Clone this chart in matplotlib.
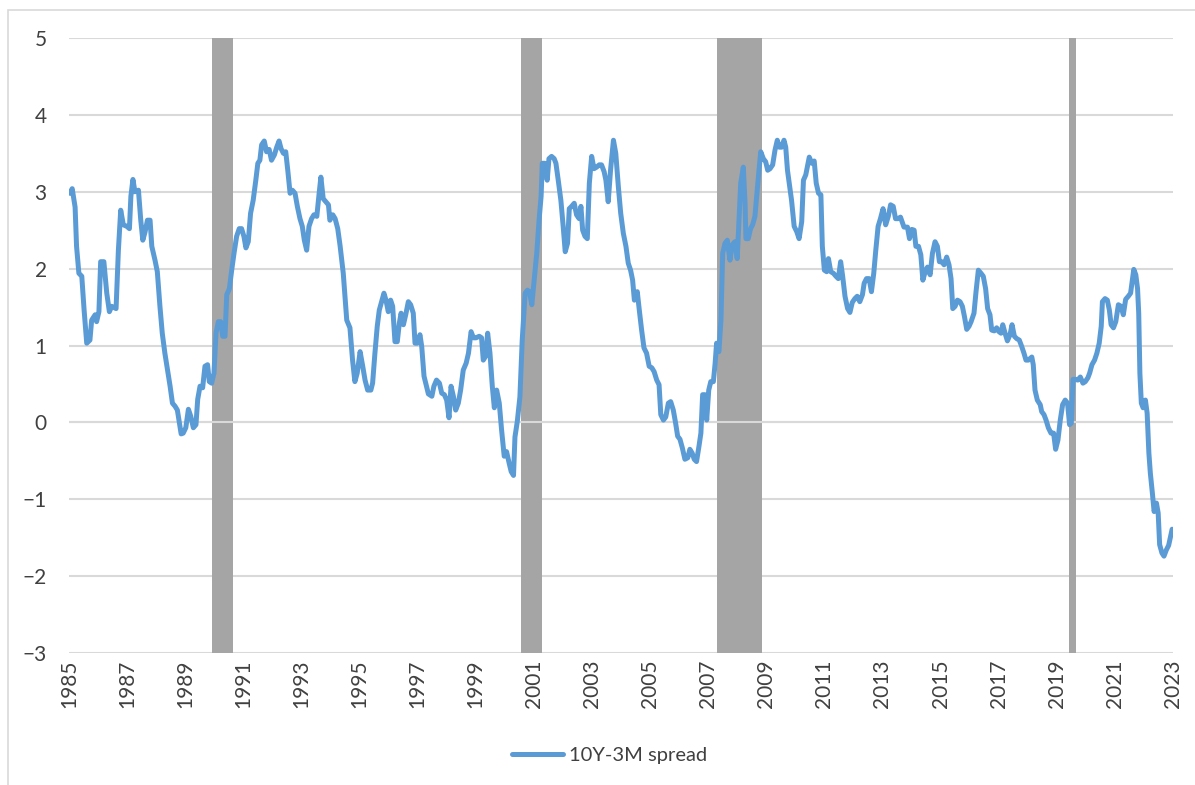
import matplotlib
matplotlib.use("Agg")
from matplotlib import pyplot as plt
from matplotlib.patches import Rectangle

# 10Y-3M spread (decimal year, percentage points)
years = [1985.03, 1985.11, 1985.21, 1985.26, 1985.34, 1985.44, 1985.52, 1985.61, 1985.72, 1985.78,
         1985.90, 1985.95, 1986.03, 1986.09, 1986.20, 1986.30, 1986.39, 1986.47, 1986.62, 1986.70,
         1986.78, 1986.87, 1986.99, 1987.08, 1987.13, 1987.20, 1987.27, 1987.39, 1987.47, 1987.54,
         1987.62, 1987.70, 1987.79, 1987.85, 1987.96, 1988.04, 1988.13, 1988.21, 1988.30, 1988.38,
         1988.48, 1988.56, 1988.65, 1988.73, 1988.80, 1988.86, 1988.93, 1989.02, 1989.11, 1989.19,
         1989.28, 1989.37, 1989.43, 1989.51, 1989.60, 1989.68, 1989.77, 1989.83, 1989.91, 1989.99,
         1990.06, 1990.14, 1990.22, 1990.29, 1990.37, 1990.43, 1990.52, 1990.60, 1990.68, 1990.77,
         1990.86, 1990.94, 1991.02, 1991.09, 1991.17, 1991.25, 1991.34, 1991.43, 1991.50, 1991.57,
         1991.63, 1991.72, 1991.80, 1991.89, 1991.97, 1992.07, 1992.15, 1992.23, 1992.30, 1992.38,
         1992.46, 1992.53, 1992.61, 1992.69, 1992.78, 1992.86, 1992.95, 1993.03, 1993.10, 1993.18,
         1993.26, 1993.35, 1993.43, 1993.53, 1993.61, 1993.67, 1993.75, 1993.84, 1993.93, 1993.98,
         1994.08, 1994.16, 1994.25, 1994.33, 1994.44, 1994.56, 1994.67, 1994.76, 1994.84, 1994.92,
         1995.02, 1995.11, 1995.19, 1995.28, 1995.39, 1995.45, 1995.53, 1995.61, 1995.68, 1995.76,
         1995.84, 1995.91, 1995.99, 1996.07, 1996.14, 1996.22, 1996.30, 1996.37, 1996.43, 1996.51,
         1996.59, 1996.68, 1996.76, 1996.85, 1996.91, 1996.99, 1997.08, 1997.14, 1997.22, 1997.29,
         1997.37, 1997.49, 1997.56, 1997.65, 1997.75, 1997.83, 1997.92, 1998.00, 1998.08, 1998.15,
         1998.23, 1998.31, 1998.40, 1998.48, 1998.57, 1998.67, 1998.75, 1998.84, 1998.92, 1999.01,
         1999.12, 1999.20, 1999.26, 1999.34, 1999.41, 1999.49, 1999.57, 1999.64, 1999.72, 1999.81,
         1999.89, 1999.98, 2000.06, 2000.15, 2000.22, 2000.30, 2000.35, 2000.43, 2000.52, 2000.60,
         2000.70, 2000.78, 2000.85, 2000.93, 2001.01, 2001.10, 2001.18, 2001.25, 2001.29, 2001.38,
         2001.46, 2001.52, 2001.61, 2001.70, 2001.76, 2001.84, 2001.93, 2002.01, 2002.08, 2002.16,
         2002.22, 2002.30, 2002.39, 2002.47, 2002.56, 2002.62, 2002.68, 2002.76, 2002.84, 2002.91,
         2002.99, 2003.07, 2003.16, 2003.25, 2003.33, 2003.42, 2003.48, 2003.56, 2003.64, 2003.74,
         2003.82, 2003.91, 2003.99, 2004.08, 2004.17, 2004.25, 2004.33, 2004.40, 2004.46, 2004.56,
         2004.63, 2004.71, 2004.79, 2004.88, 2004.97, 2005.06, 2005.14, 2005.23, 2005.31, 2005.37,
         2005.46, 2005.54, 2005.63, 2005.71, 2005.80, 2005.88, 2005.95, 2006.03, 2006.11, 2006.20,
         2006.30, 2006.37, 2006.45, 2006.52, 2006.60, 2006.68, 2006.75, 2006.81, 2006.89, 2006.95,
         2007.02, 2007.09, 2007.18, 2007.24, 2007.29, 2007.37, 2007.44, 2007.50, 2007.58, 2007.66,
         2007.75, 2007.83, 2007.92, 2008.00, 2008.06, 2008.12, 2008.21, 2008.27, 2008.30, 2008.38,
         2008.46, 2008.53, 2008.61, 2008.67, 2008.74, 2008.81, 2008.90, 2008.98, 2009.05, 2009.13,
         2009.22, 2009.30, 2009.38, 2009.45, 2009.53, 2009.61, 2009.67, 2009.73, 2009.79, 2009.87,
         2009.96, 2010.05, 2010.13, 2010.22, 2010.28, 2010.36, 2010.43, 2010.48, 2010.57, 2010.65,
         2010.72, 2010.80, 2010.88, 2010.93, 2011.00, 2011.08, 2011.14, 2011.22, 2011.31, 2011.40,
         2011.48, 2011.56, 2011.63, 2011.71, 2011.80, 2011.88, 2011.96, 2012.05, 2012.13, 2012.22,
         2012.31, 2012.37, 2012.45, 2012.54, 2012.62, 2012.70, 2012.77, 2012.85, 2012.93, 2013.02,
         2013.11, 2013.20, 2013.28, 2013.37, 2013.45, 2013.54, 2013.62, 2013.74, 2013.86, 2013.93,
         2014.01, 2014.09, 2014.15, 2014.24, 2014.32, 2014.39, 2014.47, 2014.55, 2014.64, 2014.72,
         2014.81, 2014.89, 2014.96, 2015.04, 2015.12, 2015.21, 2015.29, 2015.36, 2015.42, 2015.50,
         2015.58, 2015.67, 2015.75, 2015.82, 2015.90, 2015.98, 2016.05, 2016.15, 2016.22, 2016.30,
         2016.39, 2016.47, 2016.55, 2016.62, 2016.70, 2016.76, 2016.85, 2016.93, 2017.01, 2017.08,
         2017.14, 2017.22, 2017.30, 2017.39, 2017.46, 2017.54, 2017.62, 2017.71, 2017.79, 2017.87,
         2017.94, 2018.02, 2018.14, 2018.19, 2018.25, 2018.33, 2018.43, 2018.48, 2018.56, 2018.63,
         2018.71, 2018.80, 2018.89, 2018.96, 2019.04, 2019.12, 2019.20, 2019.29, 2019.37, 2019.44,
         2019.50, 2019.56, 2019.64, 2019.72, 2019.81, 2019.90, 2019.98, 2020.07, 2020.13, 2020.21,
         2020.30, 2020.38, 2020.46, 2020.53, 2020.57, 2020.66, 2020.74, 2020.81, 2020.87, 2020.95,
         2021.03, 2021.12, 2021.21, 2021.29, 2021.37, 2021.46, 2021.54, 2021.60, 2021.65, 2021.72,
         2021.78, 2021.82, 2021.86, 2021.91, 2021.97, 2022.05, 2022.11, 2022.17, 2022.22, 2022.29,
         2022.35, 2022.43, 2022.49, 2022.54, 2022.62, 2022.69, 2022.77, 2022.85, 2022.92, 2022.97]
spread = [2.98, 3.04, 2.80, 2.29, 1.94, 1.90, 1.46, 1.03, 1.07, 1.33,
          1.40, 1.31, 1.44, 2.09, 2.09, 1.68, 1.44, 1.51, 1.48, 2.24,
          2.76, 2.57, 2.55, 2.52, 2.94, 3.16, 3.00, 3.02, 2.63, 2.37,
          2.48, 2.63, 2.63, 2.29, 2.11, 1.96, 1.51, 1.16, 0.90, 0.71,
          0.47, 0.25, 0.21, 0.16, -0.01, -0.15, -0.14, -0.07, 0.17, 0.08,
          -0.07, -0.03, 0.30, 0.47, 0.45, 0.73, 0.75, 0.53, 0.51, 0.64,
          1.16, 1.31, 1.31, 1.12, 1.12, 1.66, 1.74, 1.98, 2.20, 2.42,
          2.52, 2.52, 2.42, 2.27, 2.35, 2.72, 2.89, 3.15, 3.37, 3.41,
          3.61, 3.66, 3.52, 3.55, 3.41, 3.48, 3.58, 3.66, 3.56, 3.50,
          3.52, 3.28, 2.98, 3.02, 2.98, 2.81, 2.65, 2.55, 2.37, 2.24,
          2.55, 2.65, 2.70, 2.68, 2.98, 3.19, 2.91, 2.87, 2.83, 2.63,
          2.70, 2.65, 2.52, 2.30, 1.94, 1.33, 1.23, 0.81, 0.53, 0.64,
          0.92, 0.73, 0.55, 0.42, 0.42, 0.51, 0.90, 1.25, 1.46, 1.57,
          1.68, 1.59, 1.44, 1.59, 1.51, 1.05, 1.05, 1.29, 1.42, 1.27,
          1.40, 1.57, 1.53, 1.42, 1.03, 1.03, 1.14, 0.99, 0.60, 0.49,
          0.37, 0.34, 0.47, 0.55, 0.51, 0.38, 0.36, 0.29, 0.06, 0.47,
          0.34, 0.16, 0.25, 0.42, 0.68, 0.77, 0.90, 1.18, 1.10, 1.10,
          1.12, 1.10, 0.81, 0.86, 1.16, 0.90, 0.47, 0.19, 0.42, 0.25,
          -0.10, -0.44, -0.38, -0.53, -0.64, -0.69, -0.19, 0.01, 0.33, 1.07,
          1.68, 1.72, 1.70, 1.53, 1.85, 2.20, 2.63, 2.94, 3.37, 3.37,
          3.15, 3.43, 3.46, 3.43, 3.37, 3.15, 2.89, 2.55, 2.22, 2.33,
          2.78, 2.81, 2.85, 2.70, 2.65, 2.81, 2.50, 2.42, 2.39, 3.11,
          3.46, 3.30, 3.32, 3.35, 3.35, 3.26, 3.15, 2.87, 3.28, 3.67,
          3.50, 3.06, 2.72, 2.46, 2.29, 2.07, 1.98, 1.85, 1.59, 1.70,
          1.46, 1.20, 0.97, 0.90, 0.73, 0.71, 0.66, 0.55, 0.49, 0.10,
          0.03, 0.07, 0.25, 0.27, 0.16, -0.01, -0.18, -0.22, -0.33, -0.48,
          -0.46, -0.35, -0.40, -0.48, -0.51, -0.32, -0.14, 0.36, 0.36, 0.03,
          0.42, 0.53, 0.53, 0.77, 1.03, 0.92, 1.33, 2.20, 2.33, 2.37,
          2.11, 2.31, 2.35, 2.13, 2.63, 3.11, 3.32, 2.85, 2.39, 2.39,
          2.52, 2.57, 2.68, 2.94, 3.24, 3.52, 3.43, 3.39, 3.28, 3.30,
          3.35, 3.54, 3.67, 3.58, 3.58, 3.67, 3.58, 3.28, 3.11, 2.89,
          2.55, 2.48, 2.39, 2.61, 3.15, 3.22, 3.35, 3.45, 3.37, 3.40,
          3.11, 2.98, 2.96, 2.29, 1.98, 1.96, 2.13, 1.96, 1.94, 1.90,
          1.87, 2.09, 1.90, 1.64, 1.48, 1.43, 1.56, 1.61, 1.64, 1.57,
          1.66, 1.81, 1.87, 1.87, 1.70, 1.94, 2.24, 2.55, 2.65, 2.78,
          2.57, 2.68, 2.83, 2.81, 2.65, 2.65, 2.67, 2.54, 2.54, 2.39,
          2.51, 2.50, 2.29, 2.29, 2.18, 1.85, 1.96, 2.02, 1.92, 2.20,
          2.35, 2.29, 2.09, 2.09, 2.05, 2.15, 2.05, 1.87, 1.48, 1.51,
          1.59, 1.57, 1.51, 1.38, 1.21, 1.25, 1.31, 1.42, 1.70, 1.98,
          1.94, 1.90, 1.74, 1.48, 1.40, 1.20, 1.19, 1.23, 1.18, 1.16,
          1.27, 1.16, 1.06, 1.14, 1.27, 1.12, 1.09, 1.07, 0.99, 0.90,
          0.81, 0.81, 0.85, 0.75, 0.42, 0.29, 0.23, 0.14, 0.10, 0.03,
          -0.07, -0.14, -0.14, -0.35, -0.23, 0.03, 0.23, 0.29, 0.25, -0.03,
          -0.01, 0.56, 0.56, 0.55, 0.59, 0.51, 0.53, 0.58, 0.64, 0.75,
          0.81, 0.90, 1.03, 1.25, 1.57, 1.61, 1.59, 1.46, 1.27, 1.23,
          1.31, 1.53, 1.51, 1.40, 1.60, 1.64, 1.68, 1.85, 1.99, 1.92,
          1.74, 1.42, 0.64, 0.25, 0.19, 0.29, 0.12, -0.40, -0.66, -0.92,
          -1.16, -1.05, -1.18, -1.59, -1.70, -1.74, -1.66, -1.60, -1.48, -1.39]

# recession bands (start, end) in decimal years
rec_start = [1989.92, 2000.55, 2007.29, 2019.42]
rec_end = [1990.65, 2001.29, 2008.85, 2019.67]

tick_years = list(range(1985, 2024, 2))
y_ticks = [-3, -2, -1, 0, 1, 2, 3, 4, 5]

LINE = "#5B9BD5"
GRID = "#D9D9D9"
TEXT = "#404040"

plt.rcParams['font.family'] = ['Lato', 'DejaVu Sans']

fig = plt.figure(figsize=(11.95, 7.85), dpi=100)
ax = fig.add_axes([69/1195, 1 - 653/785, (1173 - 69)/1195, (653 - 38)/785])

# outer chart frame
fig.patches.append(Rectangle((8/1195, -0.05), 1.1, 1 - 10/785 + 0.05, transform=fig.transFigure,
                             fill=False, edgecolor=GRID, linewidth=1.2))

for s, e in zip(rec_start, rec_end):
    ax.axvspan(s, e, color="#A5A5A5", lw=0, zorder=1)
ax.axhline(0, color=GRID, lw=1.5, zorder=2)
ax.plot(years, spread, color=LINE, lw=3.6, solid_joinstyle='round', solid_capstyle='round',
        zorder=3, label="10Y-3M spread")

ax.set_xlim(1985, 2023)
ax.set_ylim(-3, 5)
ax.set_yticks(y_ticks)
ax.set_xticks(tick_years)
ax.set_xticklabels([str(y) for y in tick_years], rotation=90)
ax.grid(axis='y', color=GRID, lw=1.5, zorder=0)
ax.set_axisbelow(True)
for sp in ax.spines.values():
    sp.set_visible(False)
ax.tick_params(axis='y', length=0, pad=16, labelsize=15, labelcolor=TEXT)
ax.tick_params(axis='x', length=0, pad=5, labelsize=15, labelcolor=TEXT)

fig.legend(loc='center', bbox_to_anchor=(0.51, 0.038), frameon=False, fontsize=14.5,
           handlelength=2.5, handletextpad=0.3, labelcolor=TEXT)

plt.savefig("out.png", dpi=100)
plt.close('all')
